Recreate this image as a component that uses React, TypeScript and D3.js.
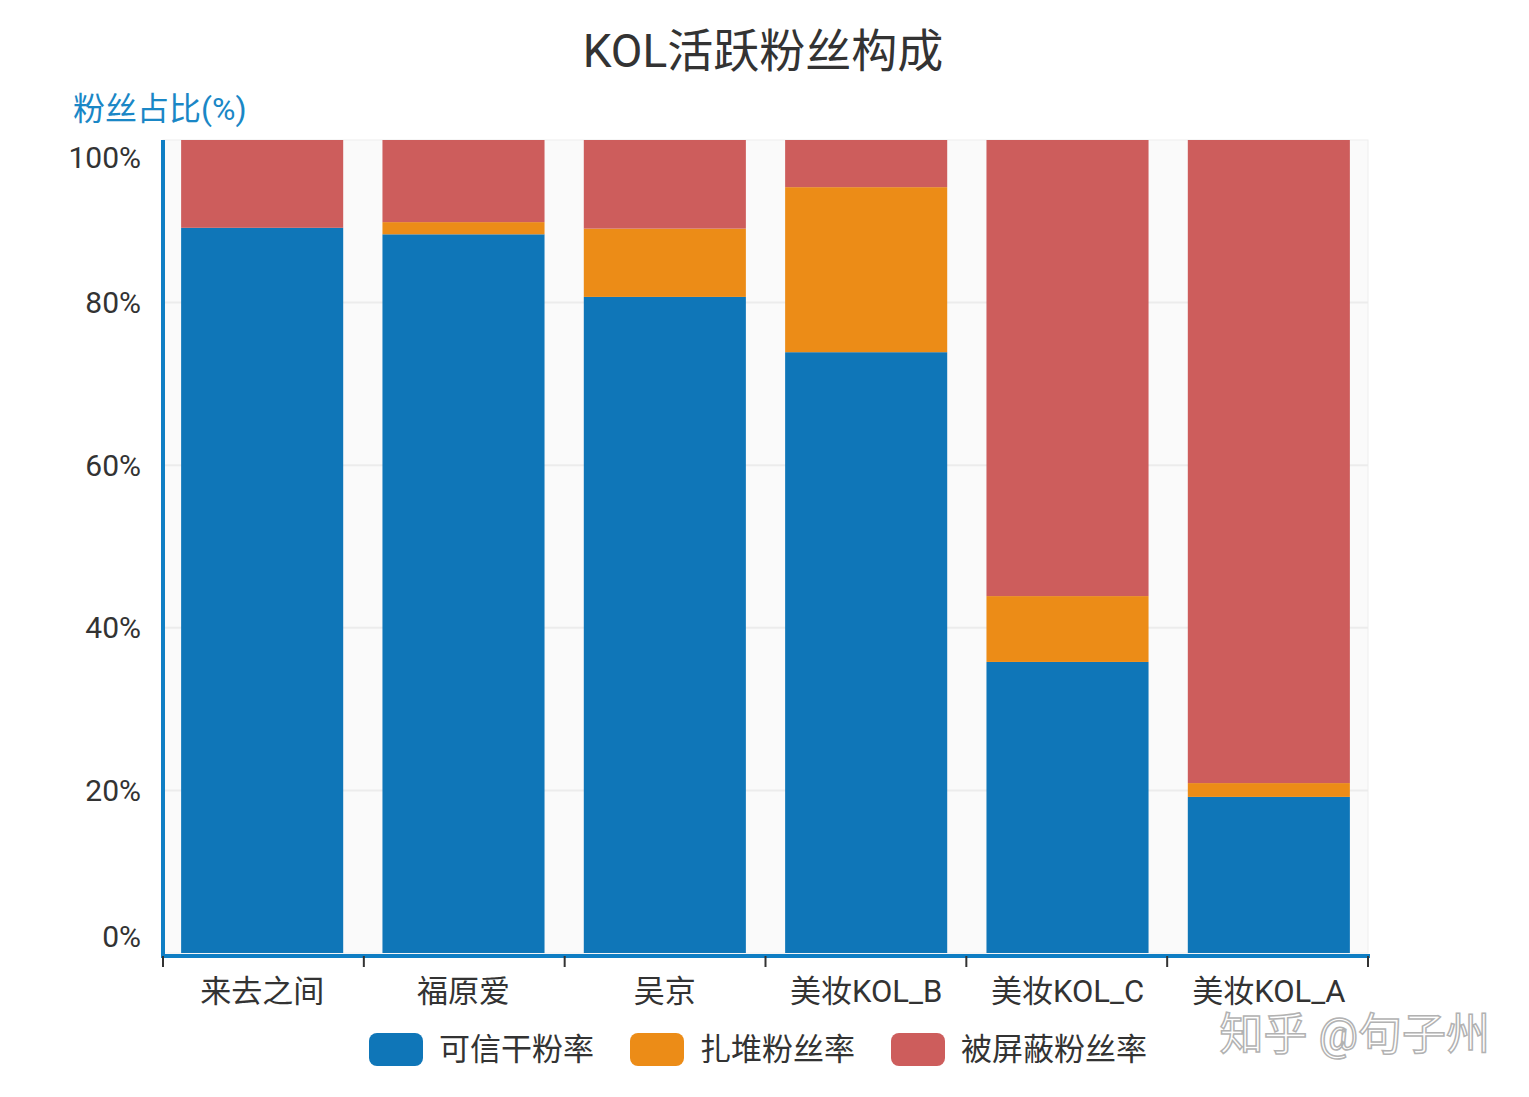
import React from "react";
import * as d3 from "d3";

const categories = ["来去之间", "福原爱", "吴京", "美妆KOL_B", "美妆KOL_C", "美妆KOL_A"];
const seriesNames = ["可信干粉率", "扎堆粉丝率", "被屏蔽粉丝率"];
const credible = [89.2, 88.4, 80.7, 73.9, 35.8, 19.2];
const clustered = [0, 1.5, 8.4, 20.3, 8.1, 1.7];
const blocked = [10.8, 10.1, 10.9, 5.8, 56.1, 79.1];
const yTicks = [0, 20, 40, 60, 80, 100];
const colors = ["#0f76b8", "#ec8c17", "#cd5d5c"];

export default function App() {
  const W = 1529, H = 1097;
  const L = 163, R = 1368, T = 140, B = 953;
  const x = d3.scaleBand().domain(categories).range([L, R]).paddingInner(0.195).paddingOuter(0.09);
  const y = d3.scaleLinear().domain([0, 100]).range([B, T]);
  const rows = categories.map((c, i) => ({ c, v: [credible[i], clustered[i], blocked[i]] }));
  const stack = d3.stack<any>().keys(["0", "1", "2"]).value((d, k) => d.v[+k])(rows);
  const font = "Roboto, 'Noto Sans CJK SC', sans-serif";
  return (
    <svg width={W} height={H} style={{ position: "absolute", left: 0, top: 0, fontFamily: font }}>
      <rect width={W} height={H} fill="#fff" />
      <text x={763} y={67} textAnchor="middle" fontSize={46} fill="#333">KOL活跃粉丝构成</text>
      <text x={73} y={120} fontSize={32} fill="#1a87c6">粉丝占比(%)</text>
      <rect x={L} y={T} width={R - L} height={B - T} fill="#fafafa" stroke="#eee" />
      {yTicks.slice(1, -1).map(t => (
        <line key={t} x1={L} x2={R} y1={y(t)} y2={y(t)} stroke="#ececec" strokeWidth={2} />
      ))}
      {stack.map((s, si) => s.map((d, i) => (
        <rect key={si + "-" + i} x={x(categories[i])} width={x.bandwidth()} y={y(d[1])}
          height={Math.max(0, y(d[0]) - y(d[1]))} fill={colors[si]} />
      )))}
      <line x1={L} x2={L} y1={T} y2={B + 3} stroke="#0f7ec4" strokeWidth={4} />
      <line x1={L - 2} x2={R + 2} y1={B + 3} y2={B + 3} stroke="#0f7ec4" strokeWidth={4} />
      {d3.range(categories.length + 1).map(i => {
        const xx = L + ((R - L) / categories.length) * i;
        return <line key={i} x1={xx} x2={xx} y1={B + 3} y2={B + 14} stroke="#333" strokeWidth={2} />;
      })}
      {yTicks.map(t => {
        const yy = t === 100 ? y(t) + 17 : t === 0 ? y(t) - 17 : y(t);
        return <text key={t} x={141} y={yy} dy="0.35em" textAnchor="end" fontSize={30} fill="#333">{t}%</text>;
      })}
      {categories.map(c => (
        <text key={c} x={x(c)! + x.bandwidth() / 2} y={1002} textAnchor="middle" fontSize={31} fill="#333">{c}</text>
      ))}
      {seriesNames.map((n, i) => {
        const lx = [369, 630, 891][i];
        return (
          <g key={n}>
            <rect x={lx} y={1033} width={54} height={33} rx={8} fill={colors[i]} />
            <text x={lx + 70} y={1060} fontSize={31} fill="#333">{n}</text>
          </g>
        );
      })}
      <text x={1490} y={1050} textAnchor="end" fontSize={44} fill="#fff" stroke="#aaa" strokeWidth={1.5} opacity={0.9}>知乎 @句子州</text>
    </svg>
  );
}
